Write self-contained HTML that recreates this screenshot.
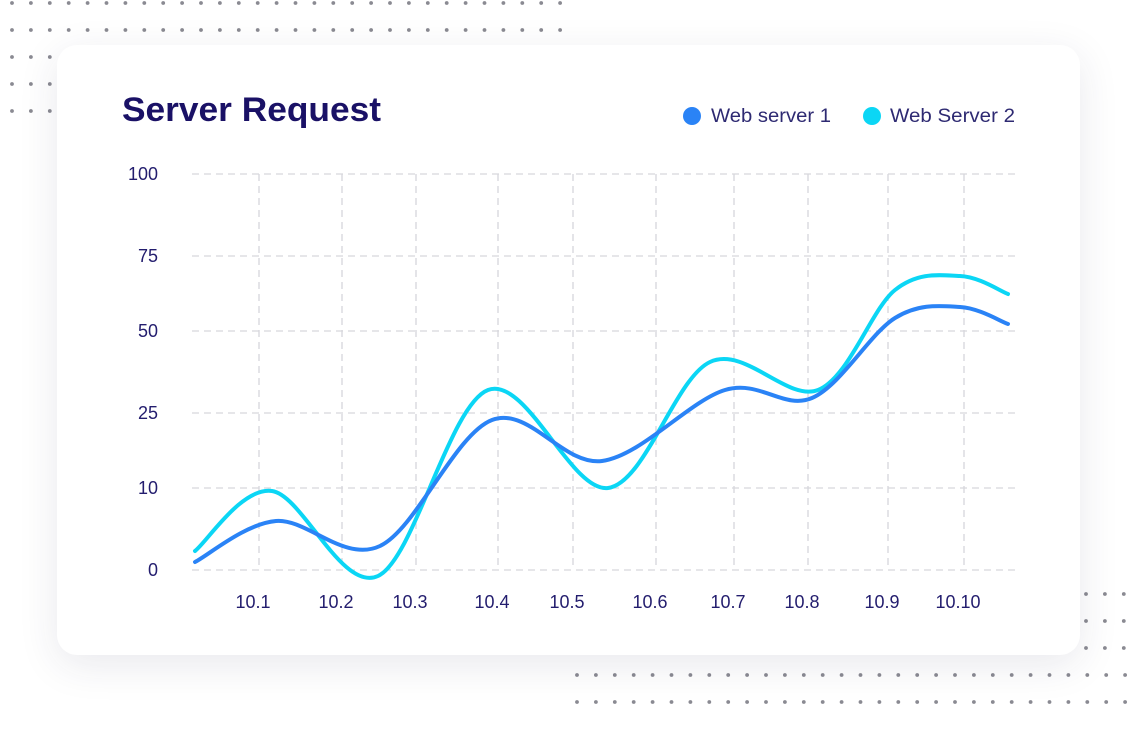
<!DOCTYPE html>
<html><head><meta charset="utf-8"><style>
html,body{margin:0;padding:0;background:#fff;width:1140px;height:733px;overflow:hidden;position:relative;font-family:"Liberation Sans",sans-serif}
.card{position:absolute;left:57px;top:45px;width:1023px;height:610px;background:#fff;border-radius:20px;box-shadow:0 10px 40px rgba(40,40,80,0.10)}
svg{position:absolute;left:0;top:0}
</style></head><body>
<svg width="1140" height="733" id="bg"></svg>
<div class="card"></div>
<svg width="1140" height="733" id="fg">
<text x="122" y="121" font-size="34" font-weight="bold" fill="#1a1166" textLength="259" lengthAdjust="spacingAndGlyphs">Server Request</text>
<circle cx="692" cy="116" r="9" fill="#2a83f6"/>
<text x="711" y="122" font-size="19" fill="#2e2a72" textLength="120" lengthAdjust="spacingAndGlyphs">Web server 1</text>
<circle cx="872" cy="116" r="9" fill="#0bd6f5"/>
<text x="890" y="122" font-size="19" fill="#2e2a72" textLength="125" lengthAdjust="spacingAndGlyphs">Web Server 2</text>
<g id="grid" stroke="#d6d6dc" stroke-width="1.3" stroke-dasharray="7,5" fill="none"></g>
<g font-size="18" fill="#231d6e" id="labels"></g>
<path id="c2" fill="none" stroke="#0bd6f5" stroke-width="4" stroke-linecap="round"/>
<path id="c1" fill="none" stroke="#2a83f6" stroke-width="4" stroke-linecap="round"/>
</svg>
<script>
var ns="http://www.w3.org/2000/svg";
function el(p,t,a,txt){var e=document.createElementNS(ns,t);for(var k in a)e.setAttribute(k,a[k]);if(txt)e.textContent=txt;p.appendChild(e);return e;}
var bg=document.getElementById('bg');
[3,30].forEach(function(y){for(var x=12;x<=562;x+=18.9)el(bg,'circle',{cx:x,cy:y,r:1.9,fill:'#8a8a92'});});
[57,84,111].forEach(function(y){for(var i=0;i<3;i++)el(bg,'circle',{cx:12+i*18.9,cy:y,r:1.9,fill:'#8a8a92'});});
[594,621,648].forEach(function(y){for(var i=0;i<3;i++)el(bg,'circle',{cx:1086+i*18.9,cy:y,r:1.9,fill:'#8a8a92'});});
[675,702].forEach(function(y){for(var x=577;x<=1128;x+=18.9)el(bg,'circle',{cx:x,cy:y,r:1.9,fill:'#8a8a92'});});
var g=document.getElementById('grid'),L=document.getElementById('labels');
var ys=[174,256,331,413,488,570],yl=['100','75','50','25','10','0'];
ys.forEach(function(y,i){el(g,'line',{x1:192,x2:1015,y1:y,y2:y});el(L,'text',{x:158,y:y+6,'text-anchor':'end'},yl[i]);});
var xs=[259,342,416,498,573,656,734,808,888,964];
xs.forEach(function(x,i){el(g,'line',{x1:x,x2:x,y1:174,y2:570});el(L,'text',{x:x-6,y:608,'text-anchor':'middle'},'10.'+(i+1));});
function cr(p){var d='M'+p[0][0]+','+p[0][1];for(var i=0;i<p.length-1;i++){var a=p[i-1]||p[i],b=p[i],c=p[i+1],e=p[i+2]||c;
d+=' C'+(b[0]+(c[0]-a[0])/6)+','+(b[1]+(c[1]-a[1])/6)+' '+(c[0]-(e[0]-b[0])/6)+','+(c[1]-(e[1]-b[1])/6)+' '+c[0]+','+c[1];}return d;}
document.getElementById('c2').setAttribute('d',cr([[195,551],[272,491],[378,576],[488,390],[608,488],[710,362],[818,390],[895,290],[960,276],[1008,294]]));
document.getElementById('c1').setAttribute('d',cr([[195,562],[276,521],[380,546],[492,420],[602,461],[725,390],[812,398],[895,318],[960,307],[1008,324]]));
</script>
</body></html>
